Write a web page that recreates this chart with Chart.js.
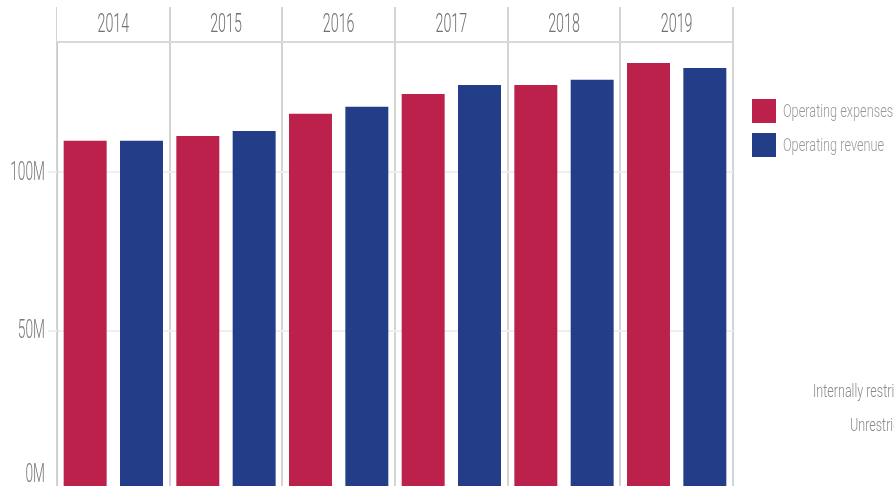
<!DOCTYPE html>
<html>
<head>
<meta charset="utf-8">
<script src="https://cdn.jsdelivr.net/npm/chart.js@4.4.1/dist/chart.umd.min.js"></script>
<style>
    html, body { margin: 0; padding: 0; background: #fff; overflow: hidden; }
    #wrap { position: relative; width: 894px; height: 500px; }
</style>
</head>
<body>
<div id="wrap"><canvas id="fundChart"></canvas></div>
<script>
// Fiscal years and operating figures (millions)
const years = ['2014', '2015', '2016', '2017', '2018', '2019'];
const operatingExpenses = [109.9, 111.4, 118.4, 124.6, 127.5, 134.4];
const operatingRevenue = [109.9, 113.0, 120.6, 127.5, 129.1, 132.8];
const yTickValues = [0, 50, 100];
const otherFundLabels = ['Internally restricted', 'Unrestricted'];

const RED = '#bc214b';
const BLUE = '#243d88';
const FONT = 'Roboto, "Liberation Sans", sans-serif';

// Draws a label squeezed horizontally so it reads like a condensed face
function drawNarrowText(ctx, text, x, y, size, squeeze, color, align) {
    ctx.save();
    ctx.font = '300 ' + size + 'px ' + FONT;
    ctx.fillStyle = color;
    ctx.textAlign = align;
    ctx.textBaseline = 'middle';
    ctx.translate(x, y);
    ctx.scale(squeeze, 1);
    ctx.fillText(text, 0, 0);
    ctx.restore();
}

const labelPlugin = {
    id: 'narrowLabels',
    afterDraw(chart) {
        const ctx = chart.ctx;
        const xScale = chart.scales.x;
        const yScale = chart.scales.y;

        // Year headers in the band above the bars
        const headerMid = (xScale.top + xScale.bottom) / 2 + 1.5;
        years.forEach((year, i) => {
            drawNarrowText(ctx, year, xScale.getPixelForValue(i), headerMid, 25, 0.57, '#707070', 'center');
        });

        // Value axis labels, kept inside the canvas at the baseline
        yTickValues.forEach(v => {
            let y = yScale.getPixelForValue(v) + 1;
            y = Math.min(y, chart.height - 24);
            drawNarrowText(ctx, v + 'M', 45, y, 25, 0.55, '#777777', 'right');
        });

        // Legend
        chart.data.datasets.forEach((ds, i) => {
            const top = 99 + i * 34;
            ctx.fillStyle = ds.backgroundColor;
            ctx.fillRect(752, top, 24, 24);
            drawNarrowText(ctx, ds.label, 783, top + 13, 19, 0.67, '#999999', 'left');
        });

        // Labels left over from the neighbouring fund chart
        const starts = [813, 850];
        otherFundLabels.forEach((label, i) => {
            drawNarrowText(ctx, label, starts[i], 392 + i * 34, 19, 0.66, '#888888', 'left');
        });
    }
};

new Chart(document.getElementById('fundChart'), {
    type: 'bar',
    data: {
        labels: years,
        datasets: [
            { label: 'Operating expenses', data: operatingExpenses, backgroundColor: RED },
            { label: 'Operating revenue', data: operatingRevenue, backgroundColor: BLUE }
        ]
    },
    options: {
        responsive: true,
        maintainAspectRatio: false,
        animation: false,
        devicePixelRatio: 1,
        layout: { padding: { top: 7, right: 161, bottom: 10, left: 0 } },
        categoryPercentage: 1.0,
        barPercentage: 0.763,
        plugins: {
            legend: { display: false },
            tooltip: { enabled: false }
        },
        scales: {
            x: {
                position: 'top',
                offset: true,
                ticks: { display: false },
                grid: {
                    offset: true,
                    color: '#d4d4d4',
                    lineWidth: ctx => ctx.index === 0 ? 1 : 2,
                    tickLength: 35
                },
                border: { color: '#d9d9d9', width: 2 }
            },
            y: {
                min: 0,
                max: 141,
                ticks: { display: false, stepSize: 50 },
                afterBuildTicks: scale => {
                    scale.ticks = yTickValues.map(v => ({ value: v }));
                },
                afterFit: scale => { scale.width = 57; },
                grid: { color: '#efefef', lineWidth: 2, tickLength: 9 },
                border: { color: '#cccccc', width: 1 }
            }
        }
    },
    plugins: [labelPlugin]
});
</script>
</body>
</html>
